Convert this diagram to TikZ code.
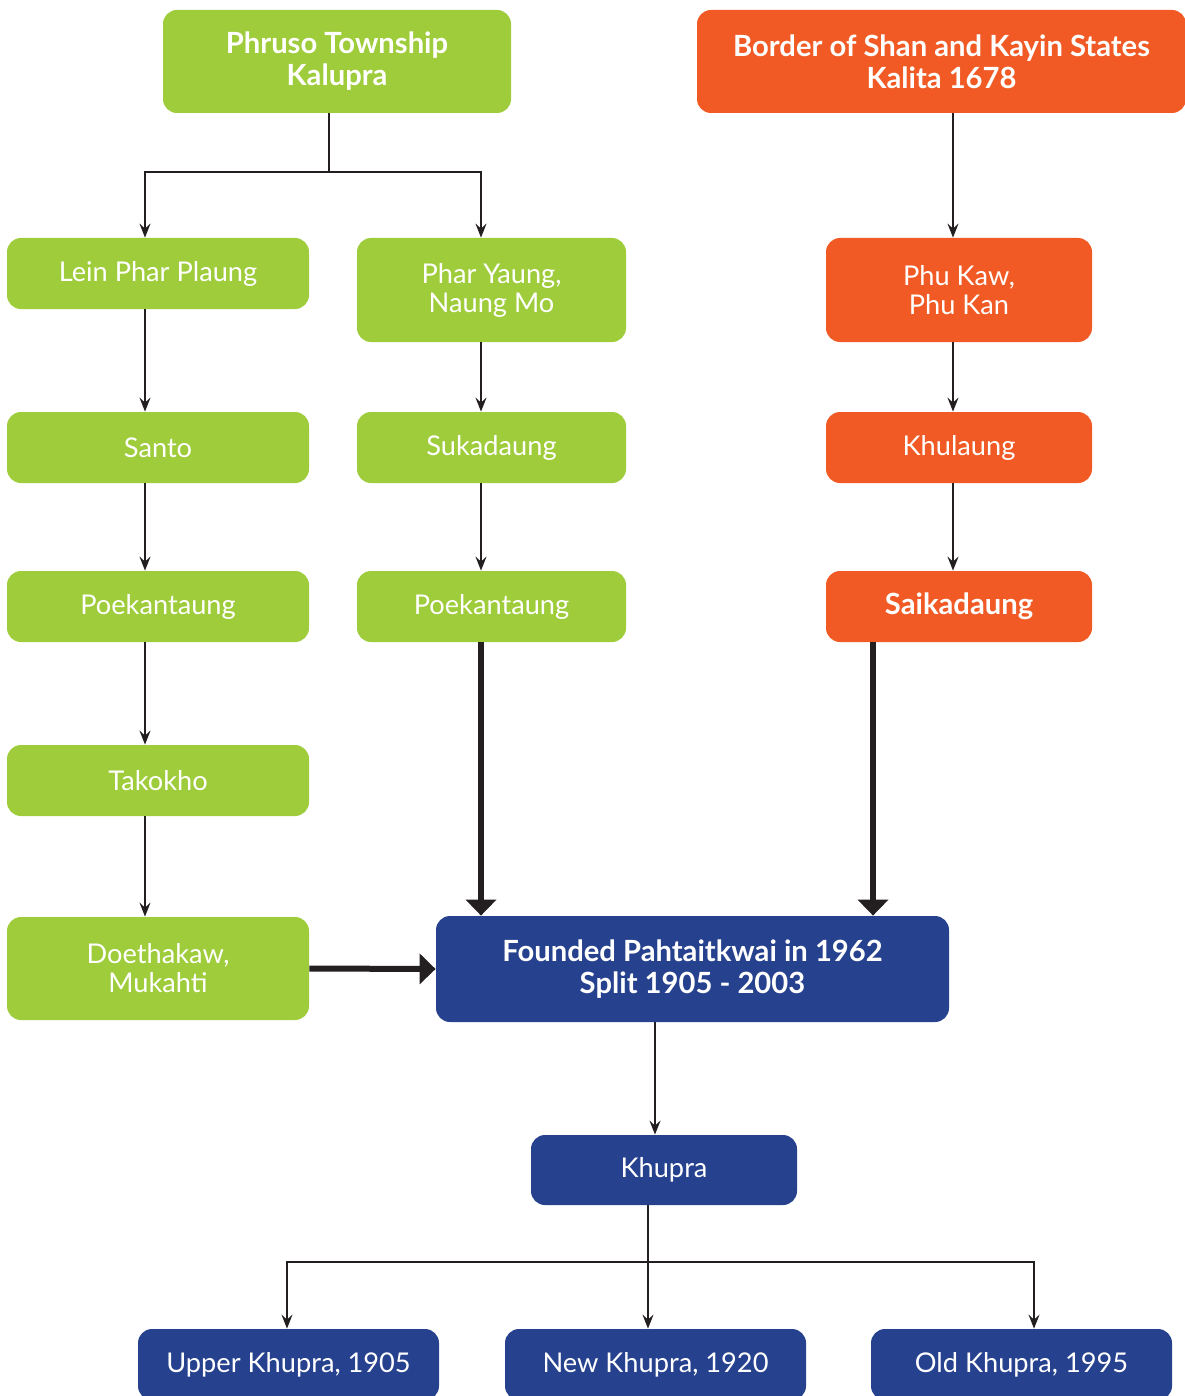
\documentclass[tikz,border=0pt]{standalone}
\usepackage{fontspec}
\setmainfont{Lato}
\usetikzlibrary{arrows.meta}

\definecolor{leafgreen}{HTML}{9ECC3B}
\definecolor{rustorange}{HTML}{F15A24}
\definecolor{navyblue}{HTML}{26418E}
\definecolor{inkblack}{HTML}{231F20}

\tikzset{
  box/.style={rounded corners=7pt, inner sep=0pt, align=center, text=white,
    font=\fontsize{13.6}{14.5}\selectfont},
  greenbox/.style={box, fill=leafgreen},
  orangebox/.style={box, fill=rustorange},
  bluebox/.style={box, fill=navyblue},
  heading/.style={font=\fontsize{14.6}{16}\selectfont\bfseries},
  thinarrow/.style={draw=inkblack, line width=0.8pt,
    -{Stealth[length=7pt,width=5.5pt,inset=2.5pt]}},
  thickarrow/.style={draw=inkblack, line width=3pt,
    -{Triangle[length=8pt,width=15pt]}},
}

\begin{document}
\begin{tikzpicture}[x=0.5pt,y=-0.5pt]

    % keep the page the size of the reference
    \useasboundingbox (0,0) rectangle (1184,1396);

    % lanes the connectors run along
    \coordinate (lane1) at (145,0);
    \coordinate (lane2) at (481,0);
    \coordinate (lane3) at (953,0);
    \coordinate (lane4) at (873,0);
    \coordinate (lane5) at (655,0);
    \coordinate (forktop) at (329,172);
    \coordinate (forkbot) at (648,1262);
    \coordinate (outleft) at (287,0);
    \coordinate (outright) at (1034,0);

    % sources
    \node[greenbox, heading, minimum width=174pt, minimum height=51.5pt] (phruso) at (337,61.5) {Phruso Township\\Kalupra};
    \node[orangebox, heading, minimum width=244.5pt, minimum height=51.5pt] (border) at (941.5,61.5) {Border of Shan and Kayin States\\Kalita 1678};

    % first green column
    \node[greenbox, minimum width=151pt, minimum height=35.5pt] (lein) at (158,273.5) {Lein Phar Plaung};
    \node[greenbox, minimum width=151pt, minimum height=35.5pt] (santo) at (158,447.5) {Santo};
    \node[greenbox, minimum width=151pt, minimum height=35.5pt] (poekA) at (158,606.5) {Poekantaung};
    \node[greenbox, minimum width=151pt, minimum height=35.5pt] (takokho) at (158,780.5) {Takokho};
    \node[greenbox, minimum width=151pt, minimum height=51.5pt] (doetha) at (158,968.5) {Doethakaw,\\Mukahti};

    % second green column
    \node[greenbox, minimum width=134.5pt, minimum height=52pt] (pharyaung) at (491.5,290) {Phar Yaung,\\Naung Mo};
    \node[greenbox, minimum width=134.5pt, minimum height=35.5pt] (suka) at (491.5,447.5) {Sukadaung};
    \node[greenbox, minimum width=134.5pt, minimum height=35.5pt] (poekB) at (491.5,606.5) {Poekantaung};

    % orange column
    \node[orangebox, minimum width=133pt, minimum height=52pt] (phukaw) at (959,290) {Phu Kaw,\\Phu Kan};
    \node[orangebox, minimum width=133pt, minimum height=35.5pt] (khulaung) at (959,447.5) {Khulaung};
    \node[orangebox, heading, minimum width=133pt, minimum height=35.5pt] (saika) at (959,606.5) {Saikadaung};

    % blue part
    \node[bluebox, heading, minimum width=256.5pt, minimum height=53pt] (founded) at (692.5,969) {Founded Pahtaitkwai in 1962\\Split 1905 - 2003};
    \node[bluebox, minimum width=133pt, minimum height=35pt] (khupra) at (664,1170) {Khupra};
    \node[bluebox, minimum width=150.5pt, minimum height=35.5pt] (upper) at (288.5,1364.5) {Upper Khupra, 1905};
    \node[bluebox, minimum width=150.5pt, minimum height=35.5pt] (new) at (655.5,1364.5) {New Khupra, 1920};
    \node[bluebox, minimum width=150.5pt, minimum height=35.5pt] (old) at (1021.5,1364.5) {Old Khupra, 1995};

    % thin connectors
    \draw[thinarrow] (phruso.south -| forktop) -- (forktop) -| (lein.north -| lane1);
    \draw[thinarrow] (phruso.south -| forktop) -- (forktop) -| (pharyaung.north -| lane2);
    \draw[thinarrow] (border.south -| lane3) -- (phukaw.north -| lane3);
    \draw[thinarrow] (lein.south -| lane1) -- (santo.north -| lane1);
    \draw[thinarrow] (santo.south -| lane1) -- (poekA.north -| lane1);
    \draw[thinarrow] (poekA.south -| lane1) -- (takokho.north -| lane1);
    \draw[thinarrow] (takokho.south -| lane1) -- (doetha.north -| lane1);
    \draw[thinarrow] (pharyaung.south -| lane2) -- (suka.north -| lane2);
    \draw[thinarrow] (suka.south -| lane2) -- (poekB.north -| lane2);
    \draw[thinarrow] (phukaw.south -| lane3) -- (khulaung.north -| lane3);
    \draw[thinarrow] (khulaung.south -| lane3) -- (saika.north -| lane3);

    % thick connectors into the blue box
    \draw[thickarrow] (poekB.south -| lane2) -- (founded.north -| lane2);
    \draw[thickarrow] (saika.south -| lane4) -- (founded.north -| lane4);
    \draw[thickarrow] (doetha.east) -- (founded.west);

    % split
    \draw[thinarrow] (founded.south -| lane5) -- (khupra.north -| lane5);
    \draw[thinarrow] (khupra.south -| forkbot) -- (new.north -| forkbot);
    \draw[thinarrow] (khupra.south -| forkbot) -- (forkbot) -| (upper.north -| outleft);
    \draw[thinarrow] (khupra.south -| forkbot) -- (forkbot) -| (old.north -| outright);

\end{tikzpicture}
\end{document}
